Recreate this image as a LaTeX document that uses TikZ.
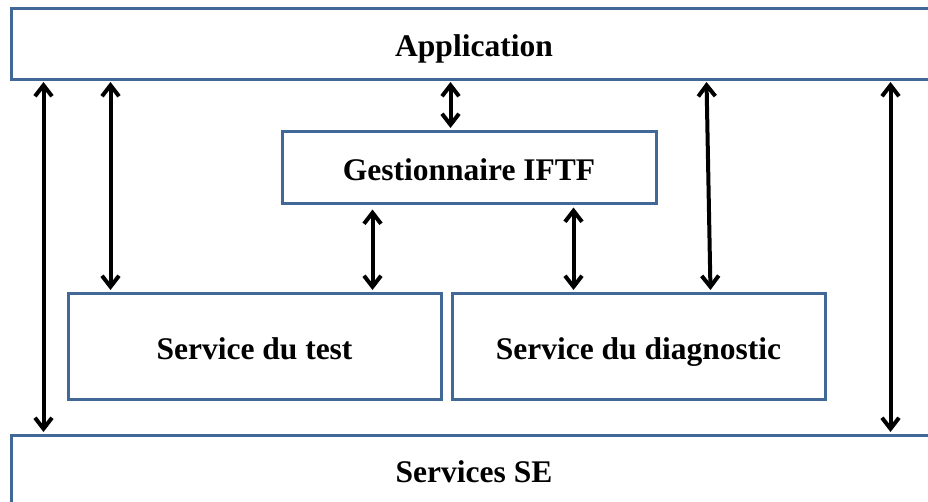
\documentclass[tikz,border=0pt]{standalone}
\usepackage{fontspec}
\setmainfont{Liberation Serif}
\usetikzlibrary{arrows.meta}
\definecolor{boxblue}{RGB}{65,104,150}
\tikzset{
  blk/.style={draw=boxblue, line width=3pt, fill=white, inner sep=0pt,
    text height=26pt, text depth=0pt,
    font=\fontsize{31.5}{36}\selectfont\bfseries},
  arr/.style={line width=4pt, black,
    {Straight Barb[length=11pt,width=17pt]}-{Straight Barb[length=11pt,width=17pt]},
    shorten <=1.5pt, shorten >=1.5pt}
}
\begin{document}
\begin{tikzpicture}[x=1pt,y=-1pt]
\useasboundingbox (0,0) rectangle (928,501);
\node[blk, minimum width=926pt, minimum height=71pt] (app) at (474,43.5) {Application};
\node[blk, minimum width=374pt, minimum height=72pt] (gest) at (469,167) {Gestionnaire IFTF};
\node[blk, minimum width=373pt, minimum height=106pt] (test) at (254.5,346) {Service du test};
\node[blk, minimum width=373pt, minimum height=106pt] (diag) at (638.5,346) {Service du diagnostic};
\node[blk, text height=19pt, minimum width=926pt, minimum height=75pt] (se) at (474,472.5) {Services SE};
% connectors
\draw[arr] ([xshift=34pt]app.south west) -- ([xshift=34pt]se.north west);
\draw[arr] ([xshift=101pt]app.south west) -- ([xshift=44pt]test.north west);
\draw[arr] ([xshift=441pt]app.south west) -- ([xshift=170pt]gest.north west);
\draw[arr, shorten <=5pt] ([xshift=92pt]gest.south west) -- ([xshift=306pt]test.north west);
\draw[arr, shorten <=3pt] ([xshift=293pt]gest.south west) -- ([xshift=123pt]diag.north west);
\draw[arr] ([xshift=697pt]app.south west) -- ([xshift=260pt]diag.north west);
\draw[arr] ([xshift=881pt]app.south west) -- ([xshift=881pt]se.north west);
\end{tikzpicture}
\end{document}
